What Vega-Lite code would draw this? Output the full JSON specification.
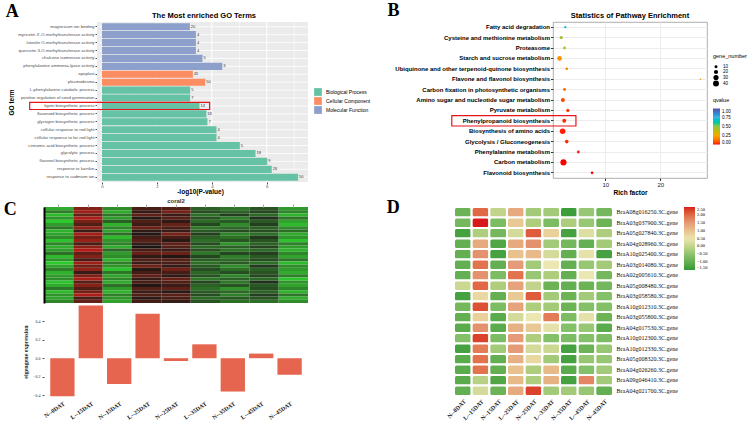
{
  "$schema": "https://vega.github.io/schema/vega-lite/v6.json",
  "background": "white",
  "padding": {"left": 3, "top": 2, "right": 0, "bottom": 0},
  "config": {
    "view": {"stroke": null},
    "font": "Liberation Sans",
    "axis": {"labelFont": "Liberation Sans", "titleFont": "Liberation Sans"},
    "legend": {"labelFont": "Liberation Sans", "titleFont": "Liberation Sans"},
    "title": {"font": "Liberation Sans", "color": "black"}
  },
  "datasets": {
    "go": [
      {"term": "magnesium ion binding", "cat": "Molecular Function", "v": 3.2, "n": 20},
      {"term": "myricetin 3'-O-methyltransferase activity", "cat": "Molecular Function", "v": 3.42, "n": 4},
      {"term": "luteolin O-methyltransferase activity", "cat": "Molecular Function", "v": 3.42, "n": 4},
      {"term": "quercetin 3-O-methyltransferase activity", "cat": "Molecular Function", "v": 3.42, "n": 4},
      {"term": "chalcone isomerase activity", "cat": "Molecular Function", "v": 3.66, "n": 5},
      {"term": "phenylalanine ammonia-lyase activity", "cat": "Molecular Function", "v": 4.38, "n": 3},
      {"term": "apoplast", "cat": "Cellular Component", "v": 3.31, "n": 45},
      {"term": "plasmodesma", "cat": "Cellular Component", "v": 3.76, "n": 50},
      {"term": "L-phenylalanine catabolic process", "cat": "Biological Process", "v": 3.21, "n": 5},
      {"term": "positive regulation of seed germination", "cat": "Biological Process", "v": 3.21, "n": 7},
      {"term": "lignin biosynthetic process", "cat": "Biological Process", "v": 3.55, "n": 14},
      {"term": "flavonoid biosynthetic process", "cat": "Biological Process", "v": 3.8, "n": 18},
      {"term": "glycogen biosynthetic process", "cat": "Biological Process", "v": 3.84, "n": 7},
      {"term": "cellular response to red light", "cat": "Biological Process", "v": 4.17, "n": 4},
      {"term": "cellular response to far red light", "cat": "Biological Process", "v": 4.17, "n": 4},
      {"term": "cinnamic acid biosynthetic process", "cat": "Biological Process", "v": 5.02, "n": 5},
      {"term": "glycolytic process", "cat": "Biological Process", "v": 5.59, "n": 18},
      {"term": "flavonol biosynthetic process", "cat": "Biological Process", "v": 6.02, "n": 9},
      {"term": "response to karrikin", "cat": "Biological Process", "v": 6.18, "n": 26},
      {"term": "response to cadmium ion", "cat": "Biological Process", "v": 7.14, "n": 50}
    ],
    "kegg": [
      {"path": "Fatty acid degradation", "rich": 2.73, "q": 0.7, "gene": 6},
      {"path": "Cysteine and methionine metabolism", "rich": 2.0, "q": 0.45, "gene": 12},
      {"path": "Proteasome", "rich": 2.6, "q": 0.38, "gene": 9},
      {"path": "Starch and sucrose metabolism", "rich": 1.7, "q": 0.2, "gene": 25},
      {"path": "Ubiquinone and other terpenoid-quinone biosynthesis", "rich": 3.0, "q": 0.18, "gene": 8},
      {"path": "Flavone and flavonol biosynthesis", "rich": 27.3, "q": 0.2, "gene": 3},
      {"path": "Carbon fixation in photosynthetic organisms", "rich": 2.6, "q": 0.12, "gene": 10},
      {"path": "Amino sugar and nucleotide sugar metabolism", "rich": 2.3, "q": 0.05, "gene": 18},
      {"path": "Pyruvate metabolism", "rich": 3.2, "q": 0.03, "gene": 12},
      {"path": "Phenylpropanoid biosynthesis", "rich": 2.55, "q": 0.02, "gene": 17},
      {"path": "Biosynthesis of amino acids", "rich": 2.25, "q": 0.01, "gene": 35},
      {"path": "Glycolysis / Gluconeogenesis", "rich": 3.0, "q": 0.02, "gene": 15},
      {"path": "Phenylalanine metabolism", "rich": 5.1, "q": 0.01, "gene": 9},
      {"path": "Carbon metabolism", "rich": 2.4, "q": 0.0, "gene": 42},
      {"path": "Flavonoid biosynthesis", "rich": 7.6, "q": 0.0, "gene": 8}
    ],
    "eig": [
      {"stage": "N--0DAT", "e": -0.41},
      {"stage": "L--15DAT", "e": 0.57},
      {"stage": "N--15DAT", "e": -0.28},
      {"stage": "L--25DAT", "e": 0.48},
      {"stage": "N--25DAT", "e": -0.03},
      {"stage": "L--35DAT", "e": 0.15},
      {"stage": "N--35DAT", "e": -0.36},
      {"stage": "L--45DAT", "e": 0.05},
      {"stage": "N--45DAT", "e": -0.18}
    ],
    "ch": [
      {"r": 1, "N--0DAT": -2.2, "L--15DAT": 1.6, "N--15DAT": -1.8, "L--25DAT": 0.8, "N--25DAT": 0.9, "L--35DAT": -1.2, "N--35DAT": -1.5, "L--45DAT": -1.0, "N--45DAT": -2.0},
      {"r": 2, "N--0DAT": -1.6, "L--15DAT": 2.0, "N--15DAT": -2.2, "L--25DAT": 0.5, "N--25DAT": 1.4, "L--35DAT": -0.9, "N--35DAT": -1.2, "L--45DAT": -0.8, "N--45DAT": -1.7},
      {"r": 3, "N--0DAT": -2.4, "L--15DAT": 1.2, "N--15DAT": -1.5, "L--25DAT": 1.1, "N--25DAT": 0.6, "L--35DAT": -1.4, "N--35DAT": -0.7, "L--45DAT": -1.3, "N--45DAT": -2.3},
      {"r": 4, "N--0DAT": -1.9, "L--15DAT": 2.2, "N--15DAT": -2.0, "L--25DAT": 0.3, "N--25DAT": 1.0, "L--35DAT": -1.0, "N--35DAT": -1.6, "L--45DAT": -0.5, "N--45DAT": -1.5},
      {"r": 5, "N--0DAT": -2.6, "L--15DAT": 1.5, "N--15DAT": -1.2, "L--25DAT": 0.9, "N--25DAT": 0.4, "L--35DAT": -1.3, "N--35DAT": -1.1, "L--45DAT": -1.1, "N--45DAT": -2.1},
      {"r": 6, "N--0DAT": -2.0, "L--15DAT": 0.9, "N--15DAT": -2.3, "L--25DAT": 0.6, "N--25DAT": 1.2, "L--35DAT": -0.8, "N--35DAT": -1.8, "L--45DAT": -0.7, "N--45DAT": -2.4},
      {"r": 7, "N--0DAT": -1.5, "L--15DAT": 1.8, "N--15DAT": -1.7, "L--25DAT": 1.3, "N--25DAT": 0.8, "L--35DAT": -1.5, "N--35DAT": -1.3, "L--45DAT": -1.2, "N--45DAT": -1.8},
      {"r": 8, "N--0DAT": -2.3, "L--15DAT": 0.6, "N--15DAT": -2.1, "L--25DAT": 0.4, "N--25DAT": 0.5, "L--35DAT": -1.1, "N--35DAT": -0.9, "L--45DAT": -0.9, "N--45DAT": -1.4},
      {"r": 9, "N--0DAT": -2.1, "L--15DAT": 2.1, "N--15DAT": -1.4, "L--25DAT": 0.2, "N--25DAT": 1.5, "L--35DAT": -0.7, "N--35DAT": -1.7, "L--45DAT": -1.4, "N--45DAT": -2.2},
      {"r": 10, "N--0DAT": -1.8, "L--15DAT": 1.4, "N--15DAT": -2.4, "L--25DAT": 0.7, "N--25DAT": 0.7, "L--35DAT": -1.2, "N--35DAT": -1.4, "L--45DAT": -0.6, "N--45DAT": -1.9},
      {"r": 11, "N--0DAT": -2.5, "L--15DAT": 1.9, "N--15DAT": -1.9, "L--25DAT": 1.0, "N--25DAT": 0.3, "L--35DAT": -1.4, "N--35DAT": -1.0, "L--45DAT": -1.0, "N--45DAT": -2.5},
      {"r": 12, "N--0DAT": -1.7, "L--15DAT": 0.8, "N--15DAT": -1.6, "L--25DAT": 0.5, "N--25DAT": 1.1, "L--35DAT": -0.9, "N--35DAT": -1.9, "L--45DAT": -1.2, "N--45DAT": -1.6},
      {"r": 13, "N--0DAT": -2.2, "L--15DAT": 1.7, "N--15DAT": -2.2, "L--25DAT": 0.1, "N--25DAT": 0.9, "L--35DAT": -1.3, "N--35DAT": -1.2, "L--45DAT": -0.8, "N--45DAT": -2.0},
      {"r": 14, "N--0DAT": -2.0, "L--15DAT": 2.3, "N--15DAT": -1.3, "L--25DAT": 0.8, "N--25DAT": 0.6, "L--35DAT": -1.0, "N--35DAT": -1.5, "L--45DAT": -1.3, "N--45DAT": -2.3},
      {"r": 15, "N--0DAT": -1.4, "L--15DAT": 1.1, "N--15DAT": -2.0, "L--25DAT": 1.2, "N--25DAT": 1.3, "L--35DAT": -1.5, "N--35DAT": -0.8, "L--45DAT": -0.7, "N--45DAT": -1.7},
      {"r": 16, "N--0DAT": -2.4, "L--15DAT": 1.6, "N--15DAT": -1.8, "L--25DAT": 0.4, "N--25DAT": 0.2, "L--35DAT": -0.8, "N--35DAT": -1.6, "L--45DAT": -1.1, "N--45DAT": -2.1},
      {"r": 17, "N--0DAT": -1.9, "L--15DAT": 0.7, "N--15DAT": -2.3, "L--25DAT": 0.9, "N--25DAT": 1.0, "L--35DAT": -1.2, "N--35DAT": -1.3, "L--45DAT": -0.9, "N--45DAT": -1.5},
      {"r": 18, "N--0DAT": -2.6, "L--15DAT": 2.0, "N--15DAT": -1.6, "L--25DAT": 0.6, "N--25DAT": 0.8, "L--35DAT": -1.4, "N--35DAT": -1.1, "L--45DAT": -1.4, "N--45DAT": -2.4},
      {"r": 19, "N--0DAT": -2.1, "L--15DAT": 1.3, "N--15DAT": -1.9, "L--25DAT": 1.4, "N--25DAT": 0.5, "L--35DAT": -1.1, "N--35DAT": -1.8, "L--45DAT": -0.6, "N--45DAT": -1.8},
      {"r": 20, "N--0DAT": -1.6, "L--15DAT": 1.8, "N--15DAT": -2.5, "L--25DAT": 0.3, "N--25DAT": 1.4, "L--35DAT": -0.9, "N--35DAT": -1.4, "L--45DAT": -1.2, "N--45DAT": -2.0},
      {"r": 21, "N--0DAT": -2.3, "L--15DAT": 0.5, "N--15DAT": -1.5, "L--25DAT": 0.7, "N--25DAT": 0.7, "L--35DAT": -1.3, "N--35DAT": -0.9, "L--45DAT": -1.0, "N--45DAT": -2.2},
      {"r": 22, "N--0DAT": -2.0, "L--15DAT": 1.5, "N--15DAT": -2.1, "L--25DAT": 1.1, "N--25DAT": 0.4, "L--35DAT": -1.0, "N--35DAT": -1.7, "L--45DAT": -0.8, "N--45DAT": -1.6},
      {"r": 23, "N--0DAT": -1.8, "L--15DAT": 2.1, "N--15DAT": -1.7, "L--25DAT": 0.5, "N--25DAT": 1.2, "L--35DAT": -1.5, "N--35DAT": -1.2, "L--45DAT": -1.3, "N--45DAT": -2.5},
      {"r": 24, "N--0DAT": -2.5, "L--15DAT": 1.0, "N--15DAT": -2.2, "L--25DAT": 0.8, "N--25DAT": 0.9, "L--35DAT": -0.8, "N--35DAT": -1.5, "L--45DAT": -0.5, "N--45DAT": -1.9},
      {"r": 25, "N--0DAT": -2.2, "L--15DAT": 1.7, "N--15DAT": -1.4, "L--25DAT": 0.2, "N--25DAT": 0.6, "L--35DAT": -1.2, "N--35DAT": -1.0, "L--45DAT": -1.1, "N--45DAT": -2.1},
      {"r": 26, "N--0DAT": -1.5, "L--15DAT": 0.9, "N--15DAT": -2.0, "L--25DAT": 1.0, "N--25DAT": 1.1, "L--35DAT": -1.4, "N--35DAT": -1.9, "L--45DAT": -0.9, "N--45DAT": -1.7},
      {"r": 27, "N--0DAT": -2.4, "L--15DAT": 1.4, "N--15DAT": -2.3, "L--25DAT": 0.6, "N--25DAT": 0.3, "L--35DAT": -1.1, "N--35DAT": -1.3, "L--45DAT": -1.2, "N--45DAT": -2.3},
      {"r": 28, "N--0DAT": -1.9, "L--15DAT": 2.2, "N--15DAT": -1.6, "L--25DAT": 0.9, "N--25DAT": 1.0, "L--35DAT": -0.9, "N--35DAT": -1.6, "L--45DAT": -0.7, "N--45DAT": -1.5},
      {"r": 29, "N--0DAT": -2.1, "L--15DAT": 0.8, "N--15DAT": -1.9, "L--25DAT": 0.4, "N--25DAT": 0.8, "L--35DAT": -1.3, "N--35DAT": -1.1, "L--45DAT": -1.0, "N--45DAT": -2.2},
      {"r": 30, "N--0DAT": -1.7, "L--15DAT": 1.2, "N--15DAT": -2.1, "L--25DAT": 0.7, "N--25DAT": 0.5, "L--35DAT": -1.0, "N--35DAT": -1.4, "L--45DAT": -1.4, "N--45DAT": -1.8}
    ],
    "dh": [
      {"gene": "BraA08g016250.3C.gene", "N--0DAT": -0.9, "L--15DAT": 2.0, "N--15DAT": 0.0, "L--25DAT": 1.3, "N--25DAT": -0.3, "L--35DAT": -0.3, "N--35DAT": -1.4, "L--45DAT": -0.4, "N--45DAT": -0.8},
      {"gene": "BraA03g037900.3C.gene", "N--0DAT": -0.8, "L--15DAT": 2.5, "N--15DAT": -0.7, "L--25DAT": 0.9, "N--25DAT": -0.2, "L--35DAT": -0.7, "N--35DAT": -0.2, "L--45DAT": -0.4, "N--45DAT": -0.9},
      {"gene": "BraA05g027840.3C.gene", "N--0DAT": -1.3, "L--15DAT": -0.2, "N--15DAT": -0.8, "L--25DAT": 0.2, "N--25DAT": 2.1, "L--35DAT": 0.8, "N--35DAT": -1.3, "L--45DAT": 0.3, "N--45DAT": -0.2},
      {"gene": "BraA04g028960.3C.gene", "N--0DAT": -1.0, "L--15DAT": 1.3, "N--15DAT": -1.2, "L--25DAT": 1.3, "N--25DAT": 1.6, "L--35DAT": -0.3, "N--35DAT": -0.8, "L--45DAT": -1.0, "N--45DAT": -0.3},
      {"gene": "BraA10g025400.3C.gene", "N--0DAT": -1.0, "L--15DAT": 1.6, "N--15DAT": -1.3, "L--25DAT": 1.0, "N--25DAT": 1.1, "L--35DAT": 0.2, "N--35DAT": -1.0, "L--45DAT": 0.4, "N--45DAT": -1.3},
      {"gene": "BraA03g014080.3C.gene", "N--0DAT": -1.0, "L--15DAT": 1.9, "N--15DAT": -1.0, "L--25DAT": 1.5, "N--25DAT": -0.3, "L--35DAT": 0.5, "N--35DAT": -1.0, "L--45DAT": -0.4, "N--45DAT": -0.3},
      {"gene": "BraA02g005610.3C.gene", "N--0DAT": -1.0, "L--15DAT": 1.6, "N--15DAT": -0.7, "L--25DAT": 1.9, "N--25DAT": -0.4, "L--35DAT": -0.2, "N--35DAT": -1.0, "L--45DAT": 0.5, "N--45DAT": -0.8},
      {"gene": "BraA05g008480.3C.gene", "N--0DAT": 0.1, "L--15DAT": 2.0, "N--15DAT": -0.2, "L--25DAT": 1.4, "N--25DAT": 0.0, "L--35DAT": -0.9, "N--35DAT": -1.0, "L--45DAT": -0.9, "N--45DAT": -0.8},
      {"gene": "BraA03g058580.3C.gene", "N--0DAT": -1.3, "L--15DAT": 0.7, "N--15DAT": -1.0, "L--25DAT": 0.9, "N--25DAT": 2.1, "L--35DAT": -0.3, "N--35DAT": -0.9, "L--45DAT": -0.3, "N--45DAT": -0.6},
      {"gene": "BraA10g012310.3C.gene", "N--0DAT": -0.8, "L--15DAT": 2.2, "N--15DAT": -0.7, "L--25DAT": 1.4, "N--25DAT": -0.2, "L--35DAT": -0.3, "N--35DAT": -0.9, "L--45DAT": -0.6, "N--45DAT": -0.6},
      {"gene": "BraA03g055800.3C.gene", "N--0DAT": -1.0, "L--15DAT": 0.8, "N--15DAT": -1.1, "L--25DAT": 0.2, "N--25DAT": 0.5, "L--35DAT": 1.8, "N--35DAT": -0.7, "L--45DAT": 0.4, "N--45DAT": -0.9},
      {"gene": "BraA04g017530.3C.gene", "N--0DAT": -1.1, "L--15DAT": 1.6, "N--15DAT": -1.1, "L--25DAT": 1.2, "N--25DAT": 0.9, "L--35DAT": 0.4, "N--35DAT": -0.6, "L--45DAT": -0.4, "N--45DAT": -1.1},
      {"gene": "BraA10g012300.3C.gene", "N--0DAT": -0.6, "L--15DAT": 2.3, "N--15DAT": -0.7, "L--25DAT": 1.5, "N--25DAT": -0.2, "L--35DAT": -0.6, "N--35DAT": -0.7, "L--45DAT": -0.6, "N--45DAT": -0.7},
      {"gene": "BraA10g012330.3C.gene", "N--0DAT": -1.3, "L--15DAT": 1.8, "N--15DAT": -0.3, "L--25DAT": 1.5, "N--25DAT": 0.2, "L--35DAT": 0.1, "N--35DAT": -1.3, "L--45DAT": -0.9, "N--45DAT": -0.4},
      {"gene": "BraA05g008320.3C.gene", "N--0DAT": -1.1, "L--15DAT": 1.9, "N--15DAT": -1.0, "L--25DAT": 1.2, "N--25DAT": 0.7, "L--35DAT": -0.3, "N--35DAT": -1.3, "L--45DAT": -0.4, "N--45DAT": -0.4},
      {"gene": "BraA04g026260.3C.gene", "N--0DAT": -1.1, "L--15DAT": 1.9, "N--15DAT": -1.0, "L--25DAT": 1.0, "N--25DAT": -0.2, "L--35DAT": 1.1, "N--35DAT": -1.1, "L--45DAT": -0.6, "N--45DAT": -0.3},
      {"gene": "BraA09g046410.3C.gene", "N--0DAT": -1.1, "L--15DAT": -0.1, "N--15DAT": -1.2, "L--25DAT": 1.1, "N--25DAT": -0.2, "L--35DAT": 1.2, "N--35DAT": -1.3, "L--45DAT": 1.7, "N--45DAT": -0.3},
      {"gene": "BraA04g021700.3C.gene", "N--0DAT": -1.0, "L--15DAT": 0.2, "N--15DAT": -0.9, "L--25DAT": 1.3, "N--25DAT": 2.3, "L--35DAT": -0.3, "N--35DAT": -0.3, "L--45DAT": -0.4, "N--45DAT": -1.0}
    ]
  },
  "spacing": 0,
  "resolve": {"scale": {"color": "independent", "size": "independent", "x": "independent", "y": "independent"}, "legend": {"color": "independent", "size": "independent"}},
  "vconcat": [
    {
      "spacing": 16,
      "resolve": {"scale": {"color": "independent", "size": "independent", "x": "independent", "y": "independent"}, "legend": {"color": "independent", "size": "independent"}},
      "hconcat": [
        {
          "title": {"text": "A", "anchor": "start", "frame": "bounds", "font": "Liberation Serif", "fontSize": 18, "fontWeight": "bold", "offset": -9, "dx": -3},
          "vconcat": [
            {
              "width": 264,
              "height": 160,
              "title": {"text": "The Most enriched GO Terms", "fontSize": 7.5, "fontWeight": "bold", "offset": 2, "anchor": "middle", "dx": 28},
              "data": {"name": "go"},
              "layer": [
                {
                  "data": {"values": [{}]},
                  "mark": {"type": "rect", "color": "#ebebeb"},
                  "encoding": {"x": {"datum": -0.18, "type": "quantitative"}, "x2": {"datum": 7.5}}
                },
                {
                  "data": {"values": [{"g": 1}, {"g": 3}, {"g": 5}, {"g": 7}]},
                  "mark": {"type": "rule", "color": "white", "strokeWidth": 0.5},
                  "encoding": {"x": {"field": "g", "type": "quantitative"}}
                },
                {
                  "data": {"values": [{"g": 0}, {"g": 2}, {"g": 4}, {"g": 6}]},
                  "mark": {"type": "rule", "color": "white", "strokeWidth": 1},
                  "encoding": {"x": {"field": "g", "type": "quantitative"}}
                },
                {
                  "mark": {"type": "rule", "color": "white", "strokeWidth": 0.8},
                  "encoding": {
                    "y": {"field": "term", "type": "nominal", "sort": null},
                    "x": {"datum": -0.18, "type": "quantitative"},
                    "x2": {"datum": 7.5}
                  }
                },
                {
                  "mark": {"type": "bar"},
                  "encoding": {
                    "y": {"field": "term", "type": "nominal", "sort": null,
                      "scale": {"paddingInner": 0.1, "paddingOuter": 0.15},
                      "axis": {"offset": -53, "title": "GO term", "titleFontSize": 6.5, "titleFontWeight": "bold", "titleColor": "black", "titlePadding": 3, "labelFontSize": 4.3, "labelColor": "#4d4d4d", "tickColor": "#4d4d4d", "tickSize": 2, "labelPadding": 1, "domain": false, "grid": false, "labelLimit": 200}},
                    "x": {"field": "v", "type": "quantitative",
                      "scale": {"domain": [-0.18, 7.5], "nice": false, "zero": false, "range": [53, 264]},
                      "axis": {"values": [0, 2, 4, 6], "title": "-log10(P-value)", "titleX": 156, "titleFontSize": 6.5, "titleFontWeight": "bold", "titleColor": "black", "titlePadding": 0, "labelFontSize": 4.3, "labelColor": "#4d4d4d", "tickColor": "#4d4d4d", "tickSize": 2, "labelPadding": 0, "domain": false, "grid": false}},
                    "color": {"field": "cat", "type": "nominal",
                      "scale": {"domain": ["Biological Process", "Cellular Component", "Molecular Function"], "range": ["#66c2a5", "#fc8d62", "#8da0cb"]},
                      "legend": {"title": null, "orient": "none", "legendX": 270, "legendY": 66, "symbolType": "square", "symbolSize": 60, "symbolStrokeWidth": 0, "labelFontSize": 5, "rowPadding": 1}}
                  }
                },
                {
                  "mark": {"type": "text", "align": "left", "dx": 1, "fontSize": 4, "color": "#333333"},
                  "encoding": {
                    "y": {"field": "term", "type": "nominal", "sort": null},
                    "x": {"field": "v", "type": "quantitative"},
                    "text": {"field": "n", "type": "quantitative"}
                  }
                },
                {
                  "data": {"values": [{}]},
                  "mark": {"type": "rect", "fill": null, "stroke": "#e8141c", "strokeWidth": 1.2},
                  "encoding": {
                    "y": {"datum": "lignin biosynthetic process", "type": "nominal"},
                    "x": {"datum": -2.63, "type": "quantitative"},
                    "x2": {"datum": 3.92}
                  }
                }
              ]
            }
          ]
        },
        {
          "title": {"text": "B", "anchor": "start", "frame": "bounds", "font": "Liberation Serif", "fontSize": 18, "fontWeight": "bold", "offset": -9, "dx": -7},
          "resolve": {"scale": {"color": "independent", "size": "independent"}, "legend": {"color": "independent", "size": "independent"}},
          "vconcat": [
            {
              "width": 154,
              "height": 156,
              "view": {"stroke": "#9a9a9a", "strokeWidth": 0.8},
              "title": {"text": "Statistics of Pathway Enrichment", "fontSize": 7.5, "fontWeight": "bold", "offset": 3},
              "data": {"name": "kegg"},
              "layer": [
                {
                  "mark": {"type": "circle", "opacity": 1},
                  "encoding": {
                    "y": {"field": "path", "type": "nominal", "sort": null,
                      "scale": {"paddingInner": 0, "paddingOuter": 0},
                      "axis": {"title": null, "labelFontSize": 6, "labelFontWeight": "bold", "labelColor": "black", "labelLimit": 300, "labelPadding": 1, "domain": false, "tickColor": "#333333", "tickSize": 2.5, "grid": true, "gridColor": "#ececec"}},
                    "x": {"field": "rich", "type": "quantitative",
                      "scale": {"domain": [0.5, 28.5], "nice": false, "zero": false},
                      "axis": {"values": [10, 20], "title": "Rich factor", "titleFontSize": 6.5, "titleFontWeight": "bold", "titleColor": "black", "titlePadding": 2, "labelFontSize": 6, "labelColor": "#222222", "tickColor": "#333333", "tickSize": 2.5, "labelPadding": 1, "domain": false, "grid": true, "gridColor": "#ececec"}},
                    "size": {"field": "gene", "type": "quantitative",
                      "scale": {"domain": [0, 45], "range": [0, 40]},
                      "legend": {"title": "gene_number", "orient": "none", "legendX": 160, "legendY": 32, "values": [10, 20, 30, 40], "symbolFillColor": "black", "symbolStrokeWidth": 0, "labelFontSize": 4.5, "titleFontSize": 5.5, "titleFontWeight": "normal", "rowPadding": 0}},
                    "color": {"field": "q", "type": "quantitative",
                      "scale": {"domain": [0, 0.25, 0.5, 0.75, 1], "range": ["#ff0000", "#f5a800", "#8dc63f", "#3fb8e0", "#5b4aa8"]},
                      "legend": {"title": "qvalue", "orient": "none", "legendX": 160, "legendY": 76, "gradientLength": 36, "gradientThickness": 7, "values": [0, 0.25, 0.5, 0.75, 1], "format": ".2f", "labelFontSize": 4.5, "titleFontSize": 5.5, "titleFontWeight": "normal", "labelOverlap": false}}
                  }
                },
                {
                  "data": {"values": [{}]},
                  "mark": {"type": "rect", "fill": null, "stroke": "#e8141c", "strokeWidth": 1.2},
                  "encoding": {
                    "y": {"datum": "Phenylpropanoid biosynthesis", "type": "nominal"},
                    "x": {"datum": -17.9, "type": "quantitative"},
                    "x2": {"datum": 4.67}
                  }
                }
              ]
            }
          ]
        }
      ]
    },
    {
      "spacing": 78,
      "resolve": {"scale": {"color": "independent", "size": "independent", "x": "independent", "y": "independent"}, "legend": {"color": "independent", "size": "independent"}},
      "hconcat": [
        {
          "title": {"text": "C", "anchor": "start", "frame": "bounds", "font": "Liberation Serif", "fontSize": 18, "fontWeight": "bold", "offset": -21, "dx": -19},
          "spacing": 2,
          "bounds": "flush",
          "resolve": {"scale": {"x": "independent", "y": "independent", "color": "independent"}},
          "vconcat": [
            {
              "width": 264,
              "height": 96,
              "title": {"text": "coral2", "fontSize": 6, "fontWeight": "bold", "offset": 0, "color": "#333333"},
              "data": {"name": "ch"},
              "transform": [{"fold": ["N--0DAT", "L--15DAT", "N--15DAT", "L--25DAT", "N--25DAT", "L--35DAT", "N--35DAT", "L--45DAT", "N--45DAT"], "as": ["stage", "v"]}],
              "mark": {"type": "rect"},
              "encoding": {
                "x": {"field": "stage", "type": "nominal", "sort": ["N--0DAT", "L--15DAT", "N--15DAT", "L--25DAT", "N--25DAT", "L--35DAT", "N--35DAT", "L--45DAT", "N--45DAT"],
                  "scale": {"paddingInner": 0, "paddingOuter": 0},
                  "axis": {"orient": "top", "labels": false, "domain": false, "tickColor": "#aaaaaa", "tickSize": 3, "title": null}},
                "y": {"field": "r", "type": "ordinal",
                  "scale": {"paddingInner": 0, "paddingOuter": 0},
                  "axis": {"labels": false, "ticks": false, "title": null, "domain": true, "domainColor": "black", "domainWidth": 2}},
                "color": {"field": "v", "type": "quantitative",
                  "scale": {"domain": [-2.5, 0, 2.5], "range": ["#2ec22e", "#141414", "#c41616"]},
                  "legend": null}
              }
            },
            {
              "width": 264,
              "height": 93,
              "data": {"name": "eig"},
              "mark": {"type": "bar", "color": "#e5654e"},
              "encoding": {
                "x": {"field": "stage", "type": "nominal", "sort": null,
                  "scale": {"paddingInner": 0.144, "paddingOuter": 0.22},
                  "axis": {"title": null, "labelAngle": -35, "labelFont": "Liberation Serif", "labelFontSize": 6, "labelFontWeight": "bold", "labelColor": "#222222", "domain": false, "ticks": false, "labelPadding": 2}},
                "y": {"field": "e", "type": "quantitative",
                  "scale": {"domain": [-0.43, 0.575], "nice": false},
                  "axis": {"values": [-0.4, -0.2, 0, 0.2, 0.4], "format": ".1f", "title": "eigengene expression", "titleFont": "Liberation Serif", "titleFontSize": 6, "titleFontWeight": "bold", "titleColor": "#222222", "titlePadding": 4, "labelFont": "Liberation Serif", "labelFontSize": 4, "labelColor": "#333333", "domain": false, "tickSize": 2, "tickColor": "#555555", "grid": false}}
              }
            }
          ]
        },
        {
          "title": {"text": "D", "anchor": "start", "frame": "bounds", "font": "Liberation Serif", "fontSize": 18, "fontWeight": "bold", "offset": -11, "dx": -59},
          "vconcat": [
            {
              "width": 159,
              "height": 189,
              "data": {"name": "dh"},
              "transform": [{"fold": ["N--0DAT", "L--15DAT", "N--15DAT", "L--25DAT", "N--25DAT", "L--35DAT", "N--35DAT", "L--45DAT", "N--45DAT"], "as": ["stage", "v"]}],
              "mark": {"type": "rect", "cornerRadius": 2.5, "stroke": "white", "strokeWidth": 2},
              "encoding": {
                "x": {"field": "stage", "type": "nominal", "sort": ["N--0DAT", "L--15DAT", "N--15DAT", "L--25DAT", "N--25DAT", "L--35DAT", "N--35DAT", "L--45DAT", "N--45DAT"],
                  "scale": {"paddingInner": 0, "paddingOuter": 0},
                  "axis": {"title": null, "labelAngle": -45, "labelFont": "Liberation Serif", "labelFontSize": 6, "labelFontWeight": "bold", "labelColor": "#222222", "domain": false, "ticks": false, "labelPadding": 2}},
                "y": {"field": "gene", "type": "nominal", "sort": null,
                  "scale": {"paddingInner": 0, "paddingOuter": 0},
                  "axis": {"orient": "right", "title": null, "labelFont": "Liberation Serif", "labelFontSize": 6, "labelColor": "#111111", "domain": false, "ticks": false, "labelPadding": 3}},
                "color": {"field": "v", "type": "quantitative",
                  "scale": {"domain": [-1.5, -0.5, 0.5, 1.5, 2.5], "range": ["#2f9a35", "#8cc46e", "#ece6b2", "#e59a78", "#d7191c"]},
                  "legend": {"title": null, "offset": 6, "gradientLength": 63, "gradientThickness": 11, "values": [-1.5, -1, -0.5, 0, 0.5, 1, 1.5, 2, 2.5], "format": ".2f", "labelFont": "Liberation Serif", "labelFontSize": 4.5, "labelOverlap": false}}
              }
            }
          ]
        }
      ]
    }
  ]
}
